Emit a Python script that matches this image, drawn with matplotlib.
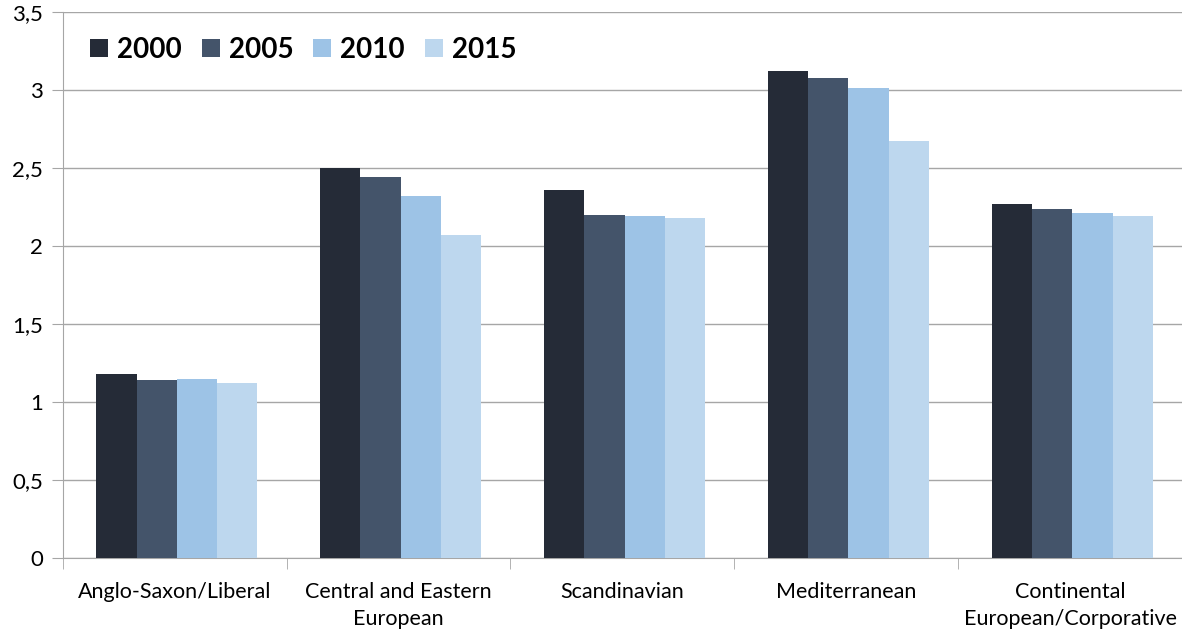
import matplotlib.pyplot as plt
import numpy as np

plt.rcParams['font.family'] = ['Lato', 'DejaVu Sans']

# regimes and years
categories = ['Anglo-Saxon/Liberal', 'Central and Eastern\nEuropean', 'Scandinavian',
              'Mediterranean', 'Continental\nEuropean/Corporative']
years = ['2000', '2005', '2010', '2015']
v2000 = [1.18, 2.50, 2.36, 3.12, 2.27]
v2005 = [1.14, 2.44, 2.20, 3.08, 2.24]
v2010 = [1.15, 2.32, 2.19, 3.01, 2.21]
v2015 = [1.12, 2.07, 2.18, 2.67, 2.19]
colors = ['#252B37', '#44546A', '#9DC3E6', '#BDD7EE']

fig = plt.figure(figsize=(11.82, 6.3), dpi=100)
ax = fig.add_axes([0.053, 0.114, 0.947, 0.867])

x = np.arange(len(categories))
w = 0.18
for i, (vals, yr) in enumerate(zip([v2000, v2005, v2010, v2015], years)):
    ax.bar(x + (i - 1.5) * w + 0.01, vals, w, color=colors[i], label=yr, zorder=3)

ax.set_xlim(-0.5, len(categories) - 0.5)
ax.set_ylim(0, 3.5)
yt = np.arange(0, 3.51, 0.5)
ax.set_yticks(yt)
ax.set_yticklabels([('%g' % t).replace('.', ',') for t in yt])
ax.grid(axis='y', color='#A6A6A6', linewidth=1, zorder=0)

ax.set_xticks(x)
ax.set_xticklabels(categories, fontsize=15.5, linespacing=1.45)
ax.set_xticks(np.arange(-0.5, len(categories)), minor=True)
ax.tick_params(axis='x', which='major', length=0, pad=17)
ax.tick_params(axis='x', which='minor', length=8, color='#A6A6A6')
ax.tick_params(axis='y', length=8, color='#A6A6A6', labelsize=16, pad=6)

for s in ['top', 'right']:
    ax.spines[s].set_visible(False)
for s in ['left', 'bottom']:
    ax.spines[s].set_color('#A6A6A6')

leg = ax.legend(loc='upper left', bbox_to_anchor=(0.0245, 0.955), ncol=4, frameon=False,
                borderpad=0, borderaxespad=0,
                handlelength=0.65, handleheight=0.65, handletextpad=0.32, columnspacing=0.72,
                prop={'weight': 'bold', 'size': 20})

fig.savefig('out.png', dpi=100)
